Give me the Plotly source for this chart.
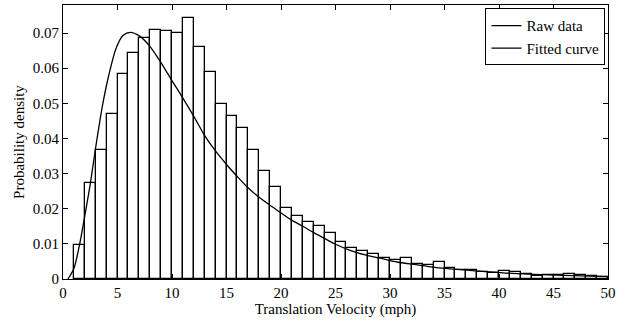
import plotly.graph_objects as go

# Histogram bins (left edges, width 1 mph) and densities
bin_left = [1, 2, 3, 4, 5, 6, 7, 8, 9, 10, 11, 12, 13, 14, 15, 16, 17, 18, 19, 20,
            21, 22, 23, 24, 25, 26, 27, 28, 29, 30, 31, 32, 33, 34, 35, 36, 37, 38, 39, 40,
            41, 42, 43, 44, 45, 46, 47, 48, 49]
raw_density = [0.0098, 0.0272, 0.0366, 0.0470, 0.0583, 0.0642, 0.0685, 0.0708, 0.0705, 0.0699,
               0.0743, 0.0660, 0.0588, 0.0498, 0.0465, 0.0431, 0.0368, 0.0307, 0.0261, 0.0202,
               0.0178, 0.0163, 0.0150, 0.0131, 0.0104, 0.0087, 0.0081, 0.0071, 0.0060, 0.0053,
               0.0059, 0.0042, 0.0040, 0.0047, 0.0031, 0.0025, 0.0026, 0.0020, 0.0018, 0.0023,
               0.0019, 0.0014, 0.0009, 0.0010, 0.0010, 0.0014, 0.0010, 0.0008, 0.0006]

# Fitted curve
curve_x = [0.45, 1.0, 1.5, 2.0, 2.5, 3.0, 3.6, 4.2, 4.85, 5.5, 6.2, 7.0, 7.9, 8.8, 9.85,
           10.9, 12.0, 13.0, 13.9, 15.0, 16.1, 17.0, 17.9, 18.9, 20.0, 20.9, 22.0, 23.0,
           24.2, 25.0, 26.4, 27.9, 29.4, 30.9, 32.4, 33.9, 35.5, 37.0, 40.6, 45.2, 50.0]
curve_y = [0.0, 0.003, 0.0095, 0.018, 0.027, 0.0375, 0.049, 0.058, 0.0655, 0.0693, 0.0702,
           0.0692, 0.0665, 0.0625, 0.0572, 0.0520, 0.0463, 0.0408, 0.0368, 0.0326, 0.0288,
           0.0259, 0.0235, 0.0212, 0.0188, 0.0169, 0.0150, 0.0132, 0.0112, 0.0099, 0.0081,
           0.0067, 0.0057, 0.0047, 0.0041, 0.0034, 0.0029, 0.0025, 0.0017, 0.0011, 0.0007]

x_ticks = [0, 5, 10, 15, 20, 25, 30, 35, 40, 45, 50]
y_ticks = [0, 0.01, 0.02, 0.03, 0.04, 0.05, 0.06, 0.07]
y_tick_labels = ["0", "0.01", "0.02", "0.03", "0.04", "0.05", "0.06", "0.07"]

FONT = "Liberation Serif, Times New Roman, serif"

fig = go.Figure()
fig.add_trace(go.Bar(
    x=bin_left, y=raw_density, offset=0, width=1,
    marker=dict(color="white", line=dict(color="black", width=1.3)),
    showlegend=False, name="Raw data",
))
# legend entry drawn as a line, as in the original
fig.add_trace(go.Scatter(
    x=[None], y=[None], mode="lines", name="Raw data",
    line=dict(color="black", width=1.3),
))
fig.add_trace(go.Scatter(
    x=curve_x, y=curve_y, mode="lines", name="Fitted curve",
    line=dict(color="black", width=1.3, shape="spline", smoothing=0.8),
))

axis_common = dict(
    showline=True, linecolor="black", linewidth=1, mirror="ticks",
    ticks="inside", ticklen=5, tickcolor="black", tickwidth=1,
    showgrid=False, zeroline=False,
    tickfont=dict(family=FONT, size=15, color="black"),
)

fig.update_layout(
    width=625, height=322,
    margin=dict(l=63, r=17, t=5, b=43),
    paper_bgcolor="white", plot_bgcolor="white",
    font=dict(family=FONT, size=15, color="black"),
    bargap=0,
    xaxis=dict(range=[0, 50], tickvals=x_ticks,
               title=dict(text="Translation Velocity (mph)", standoff=2,
                          font=dict(family=FONT, size=15, color="black")),
               **axis_common),
    yaxis=dict(range=[0, 0.078], tickvals=y_ticks, ticktext=y_tick_labels,
               title=dict(text="Probability density", standoff=4,
                          font=dict(family=FONT, size=15, color="black")),
               **axis_common),
    legend=dict(x=0.9954, y=0.988, xanchor="right", yanchor="top",
                bgcolor="white", bordercolor="black", borderwidth=1,
                font=dict(family=FONT, size=15, color="black"),
                itemwidth=30, tracegroupgap=0),
)

fig.write_html("out.html")
